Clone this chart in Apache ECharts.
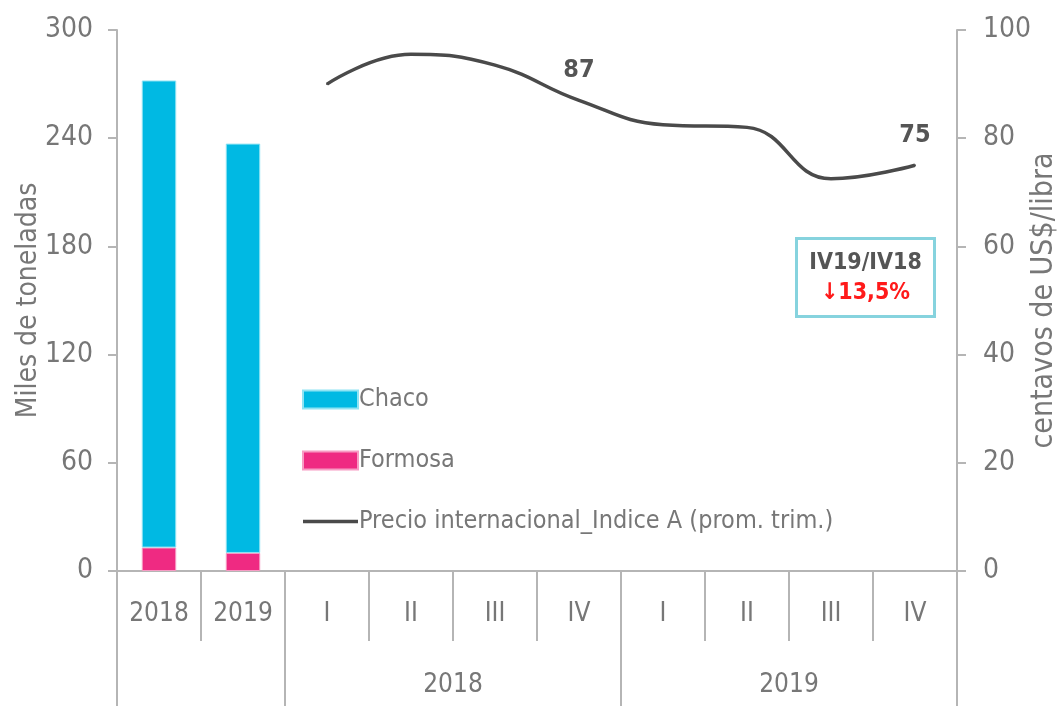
<!DOCTYPE html>
<html><head><meta charset="utf-8">
<script src="https://cdn.jsdelivr.net/npm/echarts@6/dist/echarts.min.js"></script>
<style>html,body{margin:0;padding:0;background:#fff}#c{width:1063px;height:706px}</style>
</head><body><div id="c"></div>
<script>
const categories = ['2018','2019','I','II','III','IV','I','II','III','IV'];
const groupLabels = ['2018','2019'];
const chaco = [259, 227, '-', '-', '-', '-', '-', '-', '-', '-'];
const formosa = [13, 10, '-', '-', '-', '-', '-', '-', '-', '-'];
const precio = ['-', '-', 90, 95.5, 93.5, 87, 82.5, 82, 72.5, 75];
const labeledIdx = [5, 9];
const leftTicks = {min:0, max:300, interval:60};
const rightTicks = {min:0, max:100, interval:20};
const boxTitle = 'IV19/IV18';
const boxValue = '↓13,5%';

const FONT = "'Liberation Sans Narrow','DejaVu Sans Condensed',sans-serif";
const GRAY = '#777';
const LINE = '#4a4a4a';
const chart = echarts.init(document.getElementById('c'));
chart.setOption({
  animation:false,
  textStyle:{fontFamily:FONT},
  grid:{left:117,right:106,top:30,bottom:135,containLabel:false,outerBoundsMode:'none'},
  legend:{
    orient:'vertical', left:297, top:382, itemGap:36, itemWidth:55, itemHeight:18,
    symbolKeepAspect:true,
    textStyle:{fontFamily:FONT,fontSize:25,color:GRAY,padding:[0,0,0,-4]},
    data:[{name:'Chaco',icon:'rect'},{name:'Formosa',icon:'rect'},
      {name:'Precio internacional_Indice A (prom. trim.)',icon:'path://M0,0H55V3.5H0Z',itemStyle:{color:LINE,opacity:1}}]
  },
  xAxis:[{
    type:'category', data:categories, boundaryGap:true,
    axisLine:{lineStyle:{color:'#b5b5b5',width:2}},
    axisTick:{show:true,interval:0,length:70,lineStyle:{color:'#b5b5b5',width:2}},
    axisLabel:{interval:0,margin:30,fontSize:26,color:GRAY,fontFamily:FONT}
  },{
    type:'value', min:0, max:categories.length, position:'bottom', offset:0,
    axisLine:{show:false}, splitLine:{show:false},
    axisTick:{show:true,customValues:[0,2,6,10],length:135,lineStyle:{color:'#b5b5b5',width:2}},
    axisLabel:{show:true,customValues:[4,8],margin:101,fontSize:26,color:GRAY,fontFamily:FONT,
      formatter:v=> v===4?groupLabels[0]:groupLabels[1]}
  }],
  yAxis:[{
    type:'value', min:leftTicks.min, max:leftTicks.max, interval:leftTicks.interval,
    name:'Miles de toneladas', nameLocation:'middle', nameGap:74, nameRotate:90, nameMoveOverlap:false,
    nameTextStyle:{fontSize:28,color:GRAY,fontFamily:FONT},
    axisLine:{show:true,lineStyle:{color:'#b5b5b5',width:2}},
    axisTick:{show:true,length:9,lineStyle:{color:'#b5b5b5',width:2}},
    splitLine:{show:false},
    axisLabel:{margin:24,fontSize:28,color:GRAY,fontFamily:FONT}
  },{
    type:'value', min:rightTicks.min, max:rightTicks.max, interval:rightTicks.interval, position:'right',
    name:'centavos de US$/libra', nameLocation:'middle', nameGap:72, nameRotate:90, nameMoveOverlap:false,
    nameTextStyle:{fontSize:30,color:GRAY,fontFamily:FONT},
    axisLine:{show:true,lineStyle:{color:'#b5b5b5',width:2}},
    axisTick:{show:true,length:9,lineStyle:{color:'#b5b5b5',width:2}},
    splitLine:{show:false},
    axisLabel:{margin:26,fontSize:28,color:GRAY,fontFamily:FONT}
  }],
  series:[{
    name:'Formosa', type:'bar', stack:'prod', data:formosa, barWidth:'41%',
    itemStyle:{color:'#ef2a82',borderColor:'#f79cc4',borderWidth:1}
  },{
    name:'Chaco', type:'bar', stack:'prod', data:chaco, barWidth:'41%',
    itemStyle:{color:'#00b9e3',borderColor:'#8fe3f3',borderWidth:1}
  },{
    name:'Precio internacional_Indice A (prom. trim.)', type:'line', yAxisIndex:1,
    data:precio.map((v,i)=> labeledIdx.includes(i) ? {value:v,label:{show:true}} : v),
    smooth:0.45, symbol:'circle', symbolSize:2, showSymbol:true,
    lineStyle:{color:LINE,width:3.5}, itemStyle:{color:LINE},
    label:{show:false,position:'top',distance:16,fontSize:25,fontWeight:'bold',color:'#555',fontFamily:FONT,
      formatter:p=>Math.round(p.value)}
  }],
  graphic:[{
    type:'group', left:795, top:237,
    children:[
      {type:'rect',shape:{x:0,y:0,width:138,height:78},style:{fill:'#fff',stroke:'#86d3de',lineWidth:3}},
      {type:'text',x:69,y:25,style:{text:boxTitle,fill:'#555',font:"bold 23px "+FONT,textAlign:'center',textVerticalAlign:'middle'}},
      {type:'text',x:69,y:55,style:{text:boxValue,fill:'#ff1a1a',font:"bold 23px "+FONT,textAlign:'center',textVerticalAlign:'middle'}}
    ]
  }]
});
</script></body></html>
